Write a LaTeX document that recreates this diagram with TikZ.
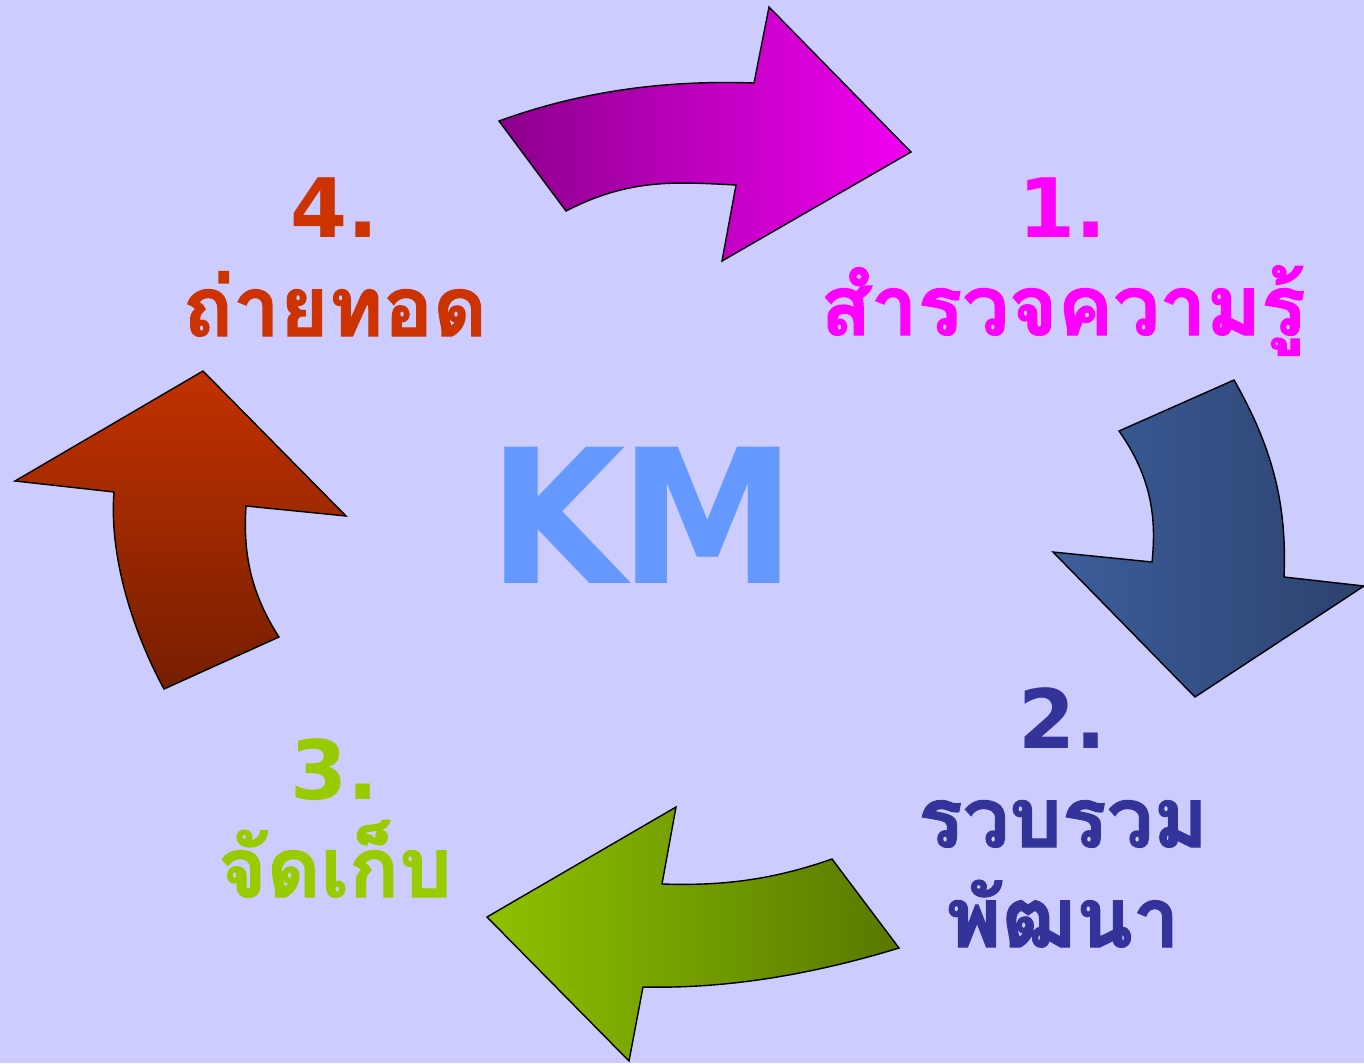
\documentclass[tikz,border=0pt]{standalone}
\usepackage{fontspec}
\newfontfamily\thaifont[Script=Thai, BoldFeatures={FakeBold=1.5}]{Loma}
\newfontfamily\numfont{DejaVu Sans}
\newfontfamily\kmfont{DejaVu Sans}
\definecolor{bg}{RGB}{204,204,255}
\definecolor{cone}{RGB}{255,0,255}
\definecolor{ctwo}{RGB}{51,51,153}
\definecolor{cthree}{RGB}{153,204,0}
\definecolor{cfour}{RGB}{204,51,0}
\definecolor{ckm}{RGB}{102,153,255}
\tikzset{
  arrowshape/.style={draw=black, line width=1.4pt, line join=miter},
  numlabel/.style={anchor=base, inner sep=0pt, font=\numfont\bfseries\fontsize{82}{90}\selectfont},
  thailabel/.style={anchor=base, inner sep=0pt, font=\thaifont\bfseries\fontsize{83}{90}\selectfont},
}
\begin{document}
\begin{tikzpicture}[x=1pt,y=-1pt]
\fill[bg] (0,0) rectangle (1364,1063);
\useasboundingbox (0,0) rectangle (1364,1063);

% pink arrow (to step 1)
\draw[arrowshape, left color={rgb,255:red,140;green,0;blue,140}, right color={rgb,255:red,242;green,0;blue,242}]
  (499,121) .. controls (584,90) and (669,80) .. (754,83)
  -- (769,7) -- (911,152) -- (722,261) -- (736,185)
  .. controls (676,182) and (630,178) .. (566,211) -- cycle;

% blue arrow (to step 2)
\draw[arrowshape, left color={rgb,255:red,60;green,94;blue,155}, right color={rgb,255:red,44;green,66;blue,110}]
  (1234,380) -- (1119,431) .. controls (1150,475) and (1157,515) .. (1152,562)
  -- (1053,552) -- (1195,697) -- (1364,586) -- (1284,577)
  .. controls (1287,507) and (1274,450) .. cycle;

% green arrow (to step 3)
\draw[arrowshape, left color={rgb,255:red,142;green,194;blue,0}, right color={rgb,255:red,88;green,120;blue,0}]
  (832,859) -- (899,948) .. controls (814,974) and (728,989) .. (643,987)
  -- (629,1061) -- (487,917) -- (676,807) -- (662,884)
  .. controls (722,886) and (772,880) .. cycle;

% red arrow (to step 4)
\draw[arrowshape, top color={rgb,255:red,194;green,50;blue,0}, bottom color={rgb,255:red,118;green,30;blue,0}]
  (203,371) -- (15,481) -- (114,492) .. controls (109,555) and (132,630) .. (164,689)
  -- (279,637) .. controls (250,592) and (243,552) .. (246,506)
  -- (346,516) -- cycle;

% labels
\node[numlabel, text=cone] (n1) at (1063,237) {1.};
\node[thailabel, text=cone] (t1) at (1063,335) {สำรวจความรู้};

\node[numlabel, text=ctwo] (n2) at (1063,748) {2.};
\node[thailabel, text=ctwo] (t2a) at (1063,847) {รวบรวม};
\node[thailabel, text=ctwo] (t2b) at (1063,947) {พัฒนา};

\node[numlabel, text=cthree] (n3) at (335,799) {3.};
\node[thailabel, text=cthree] (t3) at (335,897) {จัดเก็บ};

\node[numlabel, text=cfour] (n4) at (335,237) {4.};
\node[thailabel, text=cfour] (t4) at (335,336) {ถ่ายทอด};

\node[anchor=base, inner sep=0pt, text=ckm, xscale=0.95, font=\kmfont\bfseries\fontsize{187}{200}\selectfont] (km) at (642,583) {K\kern-0.04em M};
\end{tikzpicture}
\end{document}
